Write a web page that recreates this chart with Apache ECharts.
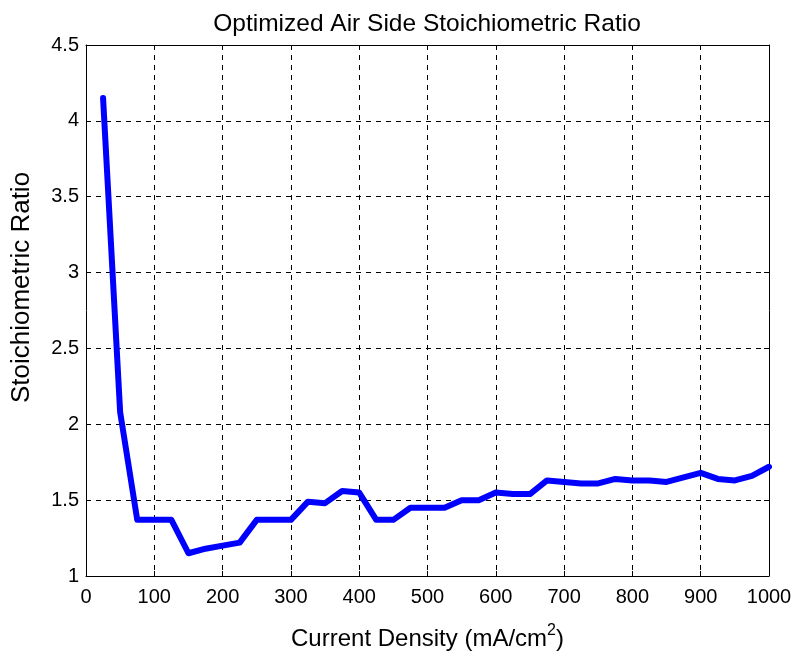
<!DOCTYPE html>
<html>
<head>
<meta charset="utf-8">
<script src="https://cdn.jsdelivr.net/npm/echarts@6/dist/echarts.min.js"></script>
<style>
  html, body { margin: 0; padding: 0; background: #fff; }
  #chart { width: 796px; height: 656px; }
</style>
</head>
<body>
<div id="chart"></div>
<script>
// Current density samples (mA/cm^2)
var currentDensity = [25, 50, 75, 100, 125, 150, 175, 200, 225, 250,
                      275, 300, 325, 350, 375, 400, 425, 450, 475, 500,
                      525, 550, 575, 600, 625, 650, 675, 700, 725, 750,
                      775, 800, 825, 850, 875, 900, 925, 950, 975, 1000];
// Optimized air side stoichiometric ratio at each current density
var stoichRatio = [4.15, 2.08, 1.37, 1.37, 1.37, 1.15, 1.18, 1.20, 1.22, 1.37,
                   1.37, 1.37, 1.49, 1.48, 1.56, 1.55, 1.37, 1.37, 1.45, 1.45,
                   1.45, 1.50, 1.50, 1.55, 1.54, 1.54, 1.63, 1.62, 1.61, 1.61,
                   1.64, 1.63, 1.63, 1.62, 1.65, 1.68, 1.64, 1.63, 1.66, 1.72];
var xTicks = [0, 100, 200, 300, 400, 500, 600, 700, 800, 900, 1000];
var yTicks = [1, 1.5, 2, 2.5, 3, 3.5, 4, 4.5];

var FONT = '"Liberation Sans", Arial, sans-serif';
var dashed = { color: '#000', width: 1, type: [5, 5] };

var chart = echarts.init(document.getElementById('chart'), null, { renderer: 'canvas' });

var points = currentDensity.map(function (x, i) { return [x, stoichRatio[i]]; });

chart.setOption({
  animation: false,
  backgroundColor: '#fff',
  title: {
    text: 'Optimized Air Side Stoichiometric Ratio',
    left: 422, top: 7, textAlign: 'center',
    textStyle: { fontFamily: FONT, fontSize: 24.5, fontWeight: 'normal', color: '#000' }
  },
  grid: { left: 86, right: 27, top: 45, bottom: 78, containLabel: false },
  xAxis: [{
    type: 'value',
    position: 'bottom',
    min: xTicks[0], max: xTicks[xTicks.length - 1], interval: 100,
    name: '{n|Current Density (mA/cm}{s|2}{n|)}',
    nameLocation: 'middle', nameGap: 47,
    nameTextStyle: {
      rich: {
        n: { fontFamily: FONT, fontSize: 24, color: '#000', verticalAlign: 'bottom', lineHeight: 28 },
        s: { fontFamily: FONT, fontSize: 16, color: '#000', verticalAlign: 'top', lineHeight: 28, padding: [0, 0, 12, 0] }
      }
    },
    axisLine: { show: true, onZero: false, lineStyle: { color: '#000', width: 1 } },
    axisTick: { show: true, inside: true, length: 5, lineStyle: { color: '#000' } },
    axisLabel: {
      fontFamily: FONT, fontSize: 20, color: '#000', margin: 11,
      formatter: function (v) { return String(v); }
    },
    splitLine: { show: true, lineStyle: dashed }
  }, {
    type: 'value',
    position: 'top',
    min: xTicks[0], max: xTicks[xTicks.length - 1], interval: 100,
    axisLine: { show: true, onZero: false, lineStyle: { color: '#000', width: 1 } },
    axisTick: { show: true, inside: true, length: 5, lineStyle: { color: '#000' } },
    axisLabel: { show: false },
    splitLine: { show: false }
  }],
  yAxis: [{
    type: 'value',
    position: 'left',
    min: yTicks[0], max: yTicks[yTicks.length - 1], interval: 0.5,
    name: 'Stoichiometric Ratio',
    nameLocation: 'middle', nameGap: 51,
    nameTextStyle: { fontFamily: FONT, fontSize: 26, color: '#000', padding: [0, 0, 0, 46] },
    axisLine: { show: true, onZero: false, lineStyle: { color: '#000', width: 1 } },
    axisTick: { show: true, inside: true, length: 5, lineStyle: { color: '#000' } },
    axisLabel: {
      fontFamily: FONT, fontSize: 20, color: '#000', margin: 7,
      formatter: function (v) { return String(v); }
    },
    splitLine: { show: true, lineStyle: dashed }
  }, {
    type: 'value',
    position: 'right',
    min: yTicks[0], max: yTicks[yTicks.length - 1], interval: 0.5,
    axisLine: { show: true, onZero: false, lineStyle: { color: '#000', width: 1 } },
    axisTick: { show: true, inside: true, length: 5, lineStyle: { color: '#000' } },
    axisLabel: { show: false },
    splitLine: { show: false }
  }],
  series: [{
    type: 'line',
    xAxisIndex: 0, yAxisIndex: 0,
    data: points,
    showSymbol: false,
    lineStyle: { color: '#0000ff', width: 6, cap: 'round', join: 'round' },
    itemStyle: { color: '#0000ff' }
  }]
});
</script>
</body>
</html>
